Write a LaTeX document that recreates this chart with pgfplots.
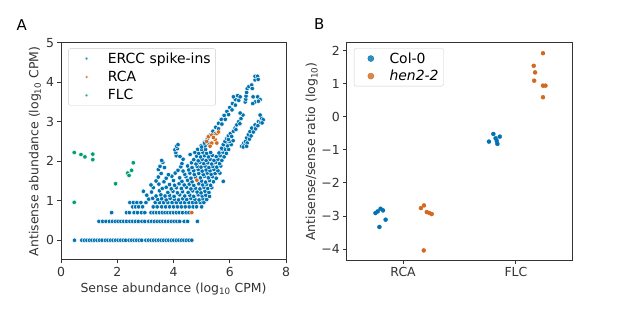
\documentclass[border=0pt]{standalone}
\usepackage{fontspec}
\setmainfont{DejaVu Sans}
\usepackage{pgfplots}
\pgfplotsset{compat=1.18}
\definecolor{cblue}{HTML}{0173B2}
\definecolor{corange}{HTML}{D2691E}
\definecolor{cgreen}{HTML}{029E73}
\definecolor{spine}{HTML}{333333}
\newcommand{\fs}{\fontsize{12.5}{15}\selectfont}
\newcommand{\fl}{\fontsize{14}{16}\selectfont}
\pgfplotsset{
  myax/.style={
    scale only axis,
    axis line style={spine, line width=1bp},
    every tick/.style={spine, line width=1bp},
    major tick length=3.5bp,
    tick align=outside,
    xtick pos=left, ytick pos=left,
    tick label style={font=\fs, text=spine},
    label style={font=\fs, text=spine},
    /pgf/number format/assume math mode=true,
    legend cell align=left,
  },
  ercc/.style={only marks, mark=*, mark size=2.25bp, draw=white, fill=cblue, mark options={fill=cblue, draw=white, line width=0.45bp}},
  rca/.style={only marks, mark=*, mark size=2.25bp, draw=white, fill=corange, mark options={fill=corange, draw=white, line width=0.45bp}},
  flc/.style={only marks, mark=*, mark size=2.25bp, draw=white, fill=cgreen, mark options={fill=cgreen, draw=white, line width=0.45bp}},
}
\begin{document}
\begin{tikzpicture}[font=\fs]
\path[use as bounding box] (0,0) rectangle (617bp,312bp);
\node[font=\fontsize{15}{18}\selectfont, text=black] at (21.7bp,287bp) {A};
\node[font=\fontsize{15}{18}\selectfont, text=black] at (319.3bp,288bp) {B};
% ---------------- Panel A ----------------
\begin{axis}[myax, at={(61bp,52bp)}, anchor=south west, width=225bp, height=217.3bp,
  xmin=0, xmax=8, ymin=-0.5, ymax=5,
  xtick={0,2,4,6,8}, ytick={0,1,2,3,4,5},
  xlabel={Sense abundance (log\textsubscript{10} CPM)},
  ylabel={Antisense abundance (log\textsubscript{10} CPM)},
  xlabel style={at={(axis description cs:0.5,-0.133)}, anchor=center},
  ylabel style={at={(axis description cs:-0.1156,0.5)}, anchor=center},
  legend style={at={(axis description cs:0.032,0.974)}, anchor=north west,
    draw=black!20, rounded corners=2bp, fill=white, fill opacity=0.8, text opacity=1,
    font=\fl, inner xsep=3bp, inner ysep=2bp, row sep=2.5bp},
  legend image code/.code={\path (0bp,0bp) (34bp,0bp); \draw[#1] plot coordinates {(15bp,0bp)};},
]
\addlegendimage{only marks, mark=*, mark size=1.7bp, draw=white, fill=cblue, mark options={fill=cblue, draw=white, line width=0.3bp}}
\addlegendentry{ERCC spike-ins}
\addlegendimage{only marks, mark=*, mark size=1.7bp, draw=white, fill=corange, mark options={fill=corange, draw=white, line width=0.3bp}}
\addlegendentry{RCA}
\addlegendimage{only marks, mark=*, mark size=1.7bp, draw=white, fill=cgreen, mark options={fill=cgreen, draw=white, line width=0.3bp}}
\addlegendentry{FLC}
\addplot[ercc, forget plot] coordinates {
(0.48,0) (0.74,0) (0.83,0) (0.92,0) (1.01,0) (1.10,0) (1.19,0) (1.28,0) (1.37,0) (1.46,0)
(1.58,0) (1.67,0) (1.76,0) (1.85,0) (1.94,0) (2.03,0) (2.12,0) (2.21,0) (2.30,0) (2.42,0)
(2.51,0) (2.60,0) (2.69,0) (2.78,0) (2.87,0) (3.02,0) (3.11,0) (3.20,0) (3.29,0) (3.38,0)
(3.47,0) (3.56,0) (3.65,0) (3.74,0) (3.83,0) (3.92,0) (4.01,0) (4.10,0) (4.19,0) (4.28,0)
(4.37,0) (4.46,0) (4.55,0) (4.65,0)
(1.35,0.477) (1.48,0.477) (1.60,0.477) (1.72,0.477) (1.83,0.477) (1.93,0.477) (2.03,0.477)
(2.13,0.477) (2.23,0.477) (2.33,0.477) (2.45,0.477) (2.55,0.477) (2.65,0.477) (2.75,0.477)
(2.88,0.477) (2.98,0.477) (3.12,0.477) (3.22,0.477) (3.32,0.477) (3.42,0.477) (3.52,0.477)
(3.62,0.477) (3.72,0.477) (3.82,0.477) (3.92,0.477) (4.02,0.477) (4.12,0.477) (4.22,0.477)
(4.38,0.477) (4.50,0.477) (4.85,0.477)
(1.80,0.699) (2.33,0.699) (2.43,0.699) (2.60,0.699) (2.72,0.699) (2.86,0.699) (2.98,0.699)
(3.20,0.699) (3.30,0.699) (3.40,0.699) (3.50,0.699) (3.60,0.699) (3.70,0.699) (3.80,0.699)
(3.90,0.699) (4.00,0.699) (4.10,0.699) (4.20,0.699) (4.32,0.699) (4.45,0.699) (4.55,0.699)
(2.55,0.845) (2.65,0.845) (2.76,0.845) (2.90,0.845) (3.28,0.845) (3.42,0.845) (3.58,0.845)
(3.72,0.845) (3.86,0.845) (4.00,0.845) (4.14,0.845) (4.28,0.845) (4.42,0.845) (4.56,0.845)
(4.70,0.845) (4.82,0.845) (5.00,0.845)
(2.45,0.954) (2.57,0.954) (2.70,0.954) (2.84,0.954) (3.02,0.954) (3.35,0.954) (3.50,0.954)
(3.65,0.954) (3.80,0.954) (3.95,0.954) (4.10,0.954) (4.25,0.954) (4.40,0.954) (4.55,0.954)
(4.68,0.954) (4.80,0.954) (4.95,0.954) (5.08,0.954)
(3.12,1.04) (3.26,1.06) (3.44,1.03) (3.58,1.05) (3.74,1.02) (3.88,1.06) (4.03,1.04) (4.18,1.02)
(4.33,1.05) (4.47,1.03) (4.62,1.06) (4.76,1.04) (4.91,1.02) (5.05,1.05) (5.18,1.03)
(3.05,1.14) (3.38,1.12) (3.55,1.15) (3.70,1.12) (3.86,1.14) (4.02,1.11) (4.22,1.15) (4.40,1.12)
(4.58,1.14) (4.72,1.11) (4.88,1.15) (5.02,1.12) (5.15,1.14) (5.28,1.11)
(2.93,1.24) (3.22,1.22) (3.50,1.25) (3.80,1.21) (3.98,1.24) (4.14,1.20) (4.32,1.23) (4.52,1.21)
(4.68,1.25) (4.84,1.22) (4.98,1.20) (5.12,1.24) (5.26,1.21)
(3.28,1.33) (3.60,1.31) (3.74,1.34) (3.92,1.30) (4.10,1.33) (4.28,1.31) (4.46,1.34) (4.62,1.30)
(4.78,1.32) (4.94,1.30) (5.08,1.34) (5.22,1.31) (5.36,1.33)
(3.20,1.40) (3.48,1.42) (3.86,1.41) (4.04,1.39) (4.20,1.43) (4.38,1.40) (4.56,1.42) (4.72,1.39)
(4.90,1.43) (5.04,1.40) (5.18,1.42) (5.32,1.39)
(3.38,1.50) (3.66,1.48) (4.00,1.51) (4.30,1.49) (4.50,1.52) (4.66,1.48) (5.00,1.50) (5.14,1.47)
(5.28,1.51) (5.42,1.48) (5.77,1.49)
(3.46,1.60) (3.74,1.57) (3.94,1.62) (4.22,1.58) (4.44,1.61) (4.62,1.57) (4.78,1.60) (4.96,1.58)
(5.10,1.62) (5.24,1.58) (5.38,1.61) (5.52,1.57)
(3.56,1.69) (3.82,1.66) (4.06,1.70) (4.40,1.67) (4.58,1.70) (4.74,1.66) (4.90,1.69) (5.06,1.66)
(5.20,1.70) (5.34,1.67) (5.48,1.69) (5.65,1.70)
(3.46,1.79) (4.16,1.77) (4.34,1.75) (4.54,1.78) (4.72,1.76) (4.88,1.79) (5.02,1.75) (5.16,1.78)
(5.30,1.76) (5.44,1.79) (5.58,1.76)
(3.52,1.87) (3.68,1.84) (4.26,1.86) (4.50,1.88) (4.66,1.84) (4.84,1.87) (4.98,1.85) (5.12,1.88)
(5.26,1.84) (5.40,1.87) (5.54,1.85) (5.68,1.88)
(3.62,1.97) (4.30,1.94) (4.64,1.96) (4.80,1.93) (4.94,1.97) (5.08,1.94) (5.22,1.96) (5.36,1.93)
(5.50,1.97) (5.64,1.94)
(3.58,2.02) (4.34,2.05) (4.72,2.04) (4.88,2.01) (5.02,2.05) (5.16,2.02) (5.30,2.05) (5.44,2.02)
(5.58,2.05) (5.72,2.02)
(4.10,2.14) (4.23,2.12) (4.59,2.17) (4.82,2.13) (4.96,2.11) (5.10,2.14) (5.24,2.11) (5.38,2.15)
(5.52,2.12) (5.66,2.14) (5.80,2.11)
(4.08,2.22) (4.76,2.22) (4.90,2.20) (5.04,2.23) (5.18,2.20) (5.32,2.22) (5.62,2.21) (5.76,2.23)
(5.88,2.20)
(4.05,2.29) (4.14,2.32) (4.86,2.30) (5.00,2.30) (5.14,2.30) (5.72,2.30) (5.84,2.30) (5.96,2.30)
(4.11,2.38) (4.16,2.42) (4.98,2.39) (5.12,2.39) (5.80,2.39) (5.92,2.39) (6.05,2.42) (6.42,2.38)
(5.10,2.48) (5.86,2.48) (6.00,2.50) (6.12,2.52) (6.50,2.46) (6.58,2.52)
(5.00,2.36) (5.10,2.46) (5.20,2.56) (5.30,2.66) (5.40,2.76) (5.50,2.86) (5.60,2.96) (5.70,3.06)
(5.80,3.16) (5.90,3.26) (6.00,3.36) (6.10,3.46) (6.20,3.56) (6.28,3.66)
(5.24,2.46) (5.48,2.70) (5.60,2.82) (5.72,2.94) (5.84,3.06) (5.96,3.18) (6.08,3.30) (6.20,3.42)
(6.32,3.54) (6.37,3.63) (6.13,3.63)
(6.55,3.50) (6.57,3.57) (6.58,3.65) (6.60,3.74) (6.62,3.84) (6.68,3.89) (6.78,3.93) (6.80,3.84)
(6.90,4.06) (6.90,4.15) (6.99,4.15) (7.01,4.07) (6.83,3.63) (6.99,3.63) (7.08,3.56) (6.90,3.50)
(6.82,3.46) (7.02,3.52)
(5.71,2.33) (5.77,2.42) (5.83,2.50) (5.89,2.57) (5.95,2.64) (6.02,2.70) (6.13,2.76) (6.19,2.84)
(6.25,2.92) (6.32,3.00) (6.40,3.08) (6.47,3.17) (6.37,3.22) (5.95,2.55) (6.07,2.63) (6.22,2.80)
(6.36,2.95)
(6.54,2.42) (6.56,2.50) (6.60,2.59) (6.66,2.67) (6.72,2.75) (6.78,2.84) (6.90,2.92) (7.02,3.00)
(7.13,3.09) (7.08,3.17) (6.62,2.46) (6.70,2.56) (6.76,2.64) (6.84,2.74) (6.92,2.82) (7.00,2.90)
(7.10,2.98) (7.19,3.05) (7.15,2.97) (6.48,2.36) (6.60,2.38)
};
\addplot[rca, forget plot] coordinates {
(5.24,2.62) (5.36,2.66) (5.54,2.70) (5.60,2.74) (5.18,2.50) (5.36,2.46) (5.48,2.55) (5.30,2.38)
(5.54,2.46) (5.42,2.60) (4.83,1.52) (4.65,0.70)
};
\addplot[flc, forget plot] coordinates {
(0.47,2.22) (0.71,2.17) (0.85,2.11) (1.13,2.18) (1.13,2.04) (0.47,0.96) (1.94,1.43) (2.37,1.70)
(2.42,1.64) (2.51,1.77) (2.57,1.96)
};
\end{axis}
% ---------------- Panel B ----------------
\begin{axis}[myax, at={(346.7bp,51.3bp)}, anchor=south west, width=225.6bp, height=218.4bp,
  xmin=-0.5, xmax=1.5, ymin=-4.35, ymax=2.25,
  xtick={0,1}, xticklabels={RCA,FLC},
  ytick={-4,-3,-2,-1,0,1,2}, yticklabels={−4,−3,−2,−1,0,1,2},
  ylabel={Antisense/sense ratio (log\textsubscript{10})},
  ylabel style={at={(axis description cs:-0.155,0.5)}, anchor=center},
  legend style={at={(axis description cs:0.032,0.9725)}, anchor=north west,
    draw=black!20, rounded corners=2bp, fill=white, fill opacity=0.8, text opacity=1,
    font=\fl, inner xsep=3bp, inner ysep=2bp, row sep=1.5bp},
  legend image code/.code={\path (0bp,0bp) (30bp,0bp); \draw[#1] plot coordinates {(13.5bp,0bp)};},
]
\addlegendimage{only marks, mark=*, mark size=3bp, color=cblue}
\addlegendentry{Col-0}
\addlegendimage{only marks, mark=*, mark size=3bp, color=corange}
\addlegendentry{\textit{hen2-2}}
\addplot[only marks, mark=*, mark size=2bp, color=cblue, forget plot] coordinates {
(-0.245,-2.91) (-0.225,-2.86) (-0.200,-2.78) (-0.178,-2.83) (-0.155,-3.11) (-0.210,-3.33)
(0.761,-0.75) (0.800,-0.52) (0.820,-0.65) (0.857,-0.60) (0.836,-0.82) (0.830,-0.73)
};
\addplot[only marks, mark=*, mark size=2bp, color=corange, forget plot] coordinates {
(0.158,-2.76) (0.185,-2.68) (0.210,-2.88) (0.233,-2.91) (0.254,-2.94) (0.183,-4.04)
(1.240,1.92) (1.158,1.54) (1.170,1.34) (1.162,1.09) (1.240,0.94) (1.262,0.94) (1.240,0.59)
};
\end{axis}
\end{tikzpicture}
\end{document}
